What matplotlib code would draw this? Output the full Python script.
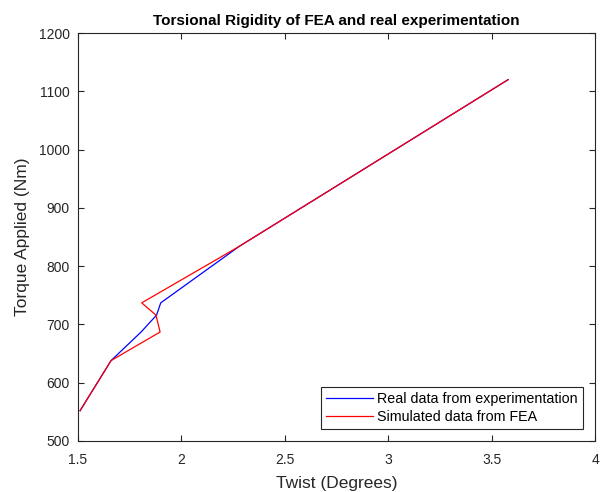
import matplotlib
matplotlib.use('Agg')
import matplotlib.pyplot as plt

# twist (degrees) and torque (Nm)
twist_real = [1.51, 1.66, 1.805, 1.88, 1.90, 2.28, 3.58]
torque_real = [552, 638, 687, 716, 737, 834, 1120]

twist_fea = [1.51, 1.66, 1.897, 1.877, 1.808, 2.28, 3.58]
torque_fea = [552, 638, 687, 716, 737, 834, 1120]

xticks = [1.5, 2, 2.5, 3, 3.5, 4]
yticks = [500, 600, 700, 800, 900, 1000, 1100, 1200]

plt.rcParams['font.family'] = ['Liberation Sans', 'DejaVu Sans']

fig = plt.figure(figsize=(6.01, 4.92), dpi=100)
ax = fig.add_axes([78 / 601, 51 / 492, 517 / 601, 408 / 492])

ax.plot(twist_real, torque_real, color='blue', linewidth=0.9,
        label='Real data from experimentation')
ax.plot(twist_fea, torque_fea, color='red', linewidth=0.9,
        label='Simulated data from FEA')

ax.set_xlim(1.5, 4)
ax.set_ylim(500, 1200)
ax.set_xticks(xticks)
ax.set_xticklabels(['1.5', '2', '2.5', '3', '3.5', '4'])
ax.set_yticks(yticks)
ax.tick_params(direction='in', top=True, right=True, length=4,
               labelsize=10, colors='#262626', pad=6)
ax.tick_params(axis='x', pad=9)
for s in ax.spines.values():
    s.set_color('#262626')
    s.set_linewidth(0.8)

ax.set_xlabel('Twist (Degrees)', fontsize=12.5, color='#262626', labelpad=6)
ax.set_ylabel('Torque Applied (Nm)', fontsize=12.5, color='#262626', labelpad=6)
ax.set_title('Torsional Rigidity of FEA and real experimentation',
             fontsize=11, fontweight='bold', pad=6)

leg = ax.legend(loc='lower right', fontsize=10.3, fancybox=False,
                framealpha=1, edgecolor='#262626', handlelength=3.3,
                borderaxespad=0.85, handletextpad=0.3, labelspacing=0.25,
                borderpad=0.35)
leg.get_frame().set_linewidth(0.8)

fig.savefig('out.png', dpi=100)
